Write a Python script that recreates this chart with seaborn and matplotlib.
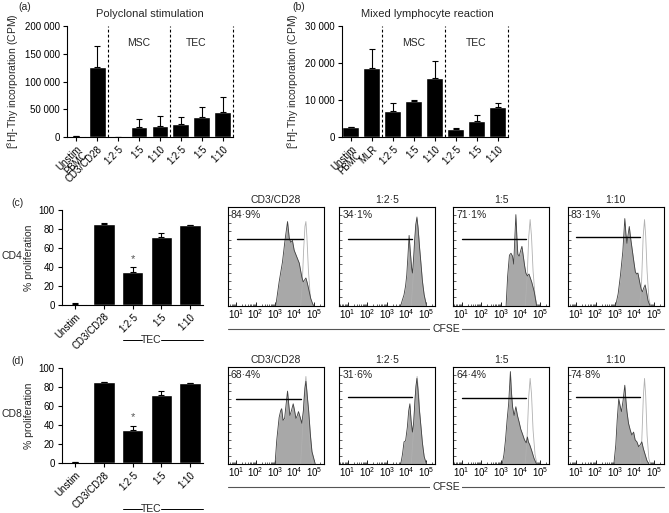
import numpy as np
import pandas as pd
import matplotlib.pyplot as plt
import seaborn as sns
from matplotlib.lines import Line2D
from matplotlib.ticker import LogLocator, NullFormatter

W, H = 669, 513

# (a) polyclonal stimulation, [3H]-Thy CPM
A_KEYS = ["PBMC", "CD3/CD28", "MSC 1:2.5", "MSC 1:5", "MSC 1:10", "TEC 1:2.5", "TEC 1:5", "TEC 1:10"]
A_LABELS = ["Unstim\nPBMC", "CD3/CD28", "1:2·5", "1:5", "1:10", "1:2·5", "1:5", "1:10"]
A_MEAN = [1800, 126000, 1200, 19100, 20900, 23900, 36400, 45400]
A_ERR = [0, 37600, 0, 14300, 17900, 11900, 17900, 27400]
A_YTICKS = [0, 50000, 100000, 150000, 200000]
A_YTICKLABELS = ["0", "50 000", "100 000", "150 000", "200 000"]

# (b) mixed lymphocyte reaction
B_KEYS = ["PBMC", "MLR", "MSC 1:2.5", "MSC 1:5", "MSC 1:10", "TEC 1:2.5", "TEC 1:5", "TEC 1:10"]
B_LABELS = ["Unstim\nPBMC", "MLR", "1:2·5", "1:5", "1:10", "1:2·5", "1:5", "1:10"]
B_MEAN = [2700, 18600, 7100, 9850, 16000, 2100, 4500, 8150]
B_ERR = [0, 5100, 2000, 100, 4400, 350, 1450, 1000]
B_YTICKS = [0, 10000, 20000, 30000]
B_YTICKLABELS = ["0", "10 000", "20 000", "30 000"]

# (c)/(d) % proliferation
P_KEYS = ["Unstim", "CD3/CD28", "TEC 1:2.5", "TEC 1:5", "TEC 1:10"]
P_LABELS = ["Unstim", "CD3/CD28", "1:2·5", "1:5", "1:10"]
CD4_MEAN = [1.0, 85.6, 34.7, 71.9, 84.2]
CD4_ERR = [0.3, 0.4, 4.6, 3.5, 0.3]
CD8_MEAN = [1.0, 85.3, 34.4, 71.6, 83.9]
CD8_ERR = [0.3, 0.4, 4.9, 3.8, 0.3]
P_YTICKS = [0, 20, 40, 60, 80, 100]

# CFSE histograms (x in log10 units, y as fraction of panel height)
HIST_TITLES = ["CD3/CD28", "1:2·5", "1:5", "1:10"]
CD4_PCT = ["84·9%", "34·1%", "71·1%", "83·1%"]
CD8_PCT = ["68·4%", "31·6%", "64·4%", "74·8%"]

CD4_FILL_X = [
    [3.03, 3.20, 3.37, 3.50, 3.63, 3.72, 3.80, 3.88, 3.97, 4.09, 4.23, 4.36, 4.43, 4.50, 4.57, 4.64, 4.71, 4.82, 4.95],
    [3.71, 3.80, 3.88, 3.96, 4.02, 4.08, 4.14, 4.20, 4.27, 4.31, 4.36, 4.42, 4.48, 4.54, 4.60, 4.67, 4.74, 4.82, 4.91, 5.03],
    [3.27, 3.35, 3.44, 3.52, 3.60, 3.66, 3.72, 3.77, 3.82, 3.87, 3.94, 4.02, 4.08, 4.15, 4.22, 4.28, 4.36, 4.44, 4.58, 4.71, 4.83],
    [3.02, 3.15, 3.27, 3.39, 3.49, 3.55, 3.60, 3.66, 3.72, 3.79, 3.86, 3.95, 4.03, 4.10, 4.16, 4.22, 4.28, 4.34, 4.39, 4.46, 4.53, 4.60, 4.68, 4.78],
]
CD4_FILL_Y = [
    [0, 0.24, 0.44, 0.66, 0.85, 0.68, 0.64, 0.66, 0.56, 0.50, 0.43, 0.29, 0.24, 0.26, 0.28, 0.23, 0.17, 0.07, 0],
    [0, 0.06, 0.11, 0.20, 0.31, 0.50, 0.71, 0.55, 0.38, 0.33, 0.45, 0.65, 0.82, 0.89, 0.78, 0.60, 0.44, 0.25, 0.11, 0],
    [0, 0.30, 0.51, 0.53, 0.50, 0.42, 0.70, 0.92, 0.70, 0.52, 0.50, 0.56, 0.60, 0.50, 0.40, 0.33, 0.30, 0.32, 0.24, 0.14, 0],
    [0, 0.12, 0.31, 0.55, 0.88, 0.72, 0.63, 0.72, 0.80, 0.68, 0.58, 0.45, 0.34, 0.32, 0.33, 0.27, 0.21, 0.16, 0.14, 0.18, 0.21, 0.14, 0.05, 0],
]
CD4_CTRL_X = [
    [4.30, 4.38, 4.45, 4.52, 4.57, 4.62, 4.70, 4.80, 4.92],
    [4.25, 4.35, 4.45, 4.54, 4.62, 4.72, 4.82, 4.95],
    [4.25, 4.35, 4.43, 4.50, 4.57, 4.65, 4.75, 4.85],
    [4.25, 4.35, 4.43, 4.50, 4.56, 4.63, 4.72, 4.80],
]
CD4_CTRL_Y = [
    [0, 0.20, 0.55, 0.80, 0.85, 0.70, 0.35, 0.08, 0],
    [0, 0.30, 0.70, 0.90, 0.75, 0.40, 0.15, 0],
    [0, 0.30, 0.70, 0.87, 0.70, 0.35, 0.10, 0],
    [0, 0.25, 0.70, 0.87, 0.70, 0.35, 0.08, 0],
]
CD4_GATE = [(1.05, 4.40, 0.67), (1.0, 4.31, 0.67), (1.0, 4.28, 0.67), (1.0, 4.28, 0.69)]

CD8_FILL_X = [
    [2.99, 3.08, 3.20, 3.28, 3.33, 3.40, 3.48, 3.56, 3.63, 3.69, 3.75, 3.83, 3.92, 3.99, 4.06, 4.13, 4.19, 4.28, 4.36, 4.44, 4.52, 4.57, 4.63, 4.71, 4.80, 4.88, 5.05],
    [3.71, 3.80, 3.88, 3.96, 4.05, 4.12, 4.18, 4.24, 4.31, 4.37, 4.43, 4.49, 4.54, 4.60, 4.67, 4.74, 4.82, 4.91, 5.03],
    [3.07, 3.16, 3.24, 3.32, 3.40, 3.45, 3.49, 3.54, 3.60, 3.68, 3.77, 3.85, 3.94, 4.02, 4.11, 4.21, 4.30, 4.36, 4.41, 4.48, 4.58, 4.70, 4.83],
    [2.93, 3.03, 3.10, 3.18, 3.25, 3.32, 3.40, 3.49, 3.55, 3.60, 3.68, 3.77, 3.85, 3.94, 4.02, 4.11, 4.20, 4.28, 4.36, 4.44, 4.53, 4.62, 4.73],
]
CD8_FILL_Y = [
    [0, 0.25, 0.48, 0.55, 0.57, 0.45, 0.47, 0.62, 0.75, 0.62, 0.50, 0.55, 0.62, 0.55, 0.47, 0.50, 0.54, 0.48, 0.42, 0.55, 0.78, 0.85, 0.72, 0.55, 0.30, 0.13, 0],
    [0, 0.10, 0.23, 0.24, 0.38, 0.55, 0.62, 0.45, 0.33, 0.42, 0.62, 0.80, 0.88, 0.75, 0.55, 0.40, 0.22, 0.08, 0],
    [0, 0.10, 0.25, 0.45, 0.62, 0.80, 0.95, 0.75, 0.59, 0.50, 0.59, 0.50, 0.43, 0.36, 0.31, 0.25, 0.22, 0.28, 0.23, 0.20, 0.14, 0.06, 0],
    [0, 0.20, 0.45, 0.67, 0.60, 0.54, 0.65, 0.81, 0.65, 0.54, 0.42, 0.35, 0.30, 0.33, 0.25, 0.23, 0.18, 0.20, 0.23, 0.16, 0.10, 0.04, 0],
]
CD8_CTRL_X = [
    [4.30, 4.40, 4.48, 4.57, 4.64, 4.72, 4.82, 4.92],
    [4.25, 4.35, 4.45, 4.55, 4.62, 4.72, 4.82, 4.95],
    [4.25, 4.35, 4.43, 4.50, 4.57, 4.65, 4.75, 4.85],
    [4.28, 4.36, 4.44, 4.50, 4.56, 4.63, 4.72, 4.80],
]
CD8_CTRL_Y = [
    [0, 0.35, 0.70, 0.90, 0.70, 0.35, 0.08, 0],
    [0, 0.30, 0.70, 0.90, 0.75, 0.40, 0.12, 0],
    [0, 0.30, 0.70, 0.88, 0.72, 0.35, 0.10, 0],
    [0, 0.25, 0.70, 0.88, 0.70, 0.30, 0.06, 0],
]
CD8_GATE = [(1.0, 4.31, 0.67), (1.0, 4.31, 0.69), (1.0, 4.28, 0.68), (1.0, 4.28, 0.69)]


sns.set_theme(style="ticks")
plt.rcParams["font.family"] = ["Liberation Sans", "DejaVu Sans"]
plt.rcParams["mathtext.fontset"] = "custom"
plt.rcParams["mathtext.rm"] = "Liberation Sans"
plt.rcParams["mathtext.it"] = "Liberation Sans:italic"
plt.rcParams["mathtext.bf"] = "Liberation Sans:bold"
plt.rcParams["axes.linewidth"] = 0.8
plt.rcParams["axes.edgecolor"] = "black"

fig = plt.figure(figsize=(W / 100, H / 100), dpi=100)
fig.patch.set_facecolor("white")


def rect(l, t, r, b):
    return [l / W, 1 - b / H, (r - l) / W, (b - t) / H]


def ftext(x, y, s, **kw):
    fig.text(x / W, 1 - y / H, s, **kw)


def fline(x0, x1, y, **kw):
    fig.add_artist(Line2D([x0 / W, x1 / W], [1 - y / H, 1 - y / H],
                          transform=fig.transFigure, **kw))


#bar panels (a)-(d)
def bar_panel(ax, keys, labels, means, errs, width, xlim, ylim, yticks, yticklabels):
    df = pd.DataFrame({"group": keys, "value": means})
    sns.barplot(data=df, x="group", y="value", order=keys, color="black",
                saturation=1, width=width, errorbar=None, ax=ax)
    ax.errorbar(np.arange(len(keys)), means, yerr=[np.zeros(len(errs)), errs],
                fmt="none", ecolor="black", elinewidth=0.8, capsize=2.5, capthick=0.8)
    ax.set_xlim(*xlim)
    ax.set_ylim(*ylim)
    ax.set_yticks(yticks)
    ax.set_yticklabels(yticklabels)
    ax.set_xticks(np.arange(len(keys)))
    ax.set_xticklabels(labels, rotation=45, ha="right", va="top", rotation_mode="anchor")
    for lbl in ax.get_xticklabels():
        lbl.set_linespacing(0.72)
        lbl.set_multialignment("right")
    ax.set_xlabel("")
    ax.set_ylabel("")
    ax.tick_params(labelsize=7, length=3, width=0.8, pad=2, colors="black")
    sns.despine(ax=ax)


ax_a = fig.add_axes(rect(67, 25.7, 233, 137.3))
bar_panel(ax_a, A_KEYS, A_LABELS, A_MEAN, A_ERR, 0.8, (-0.45, 7.5), (0, 200000),
          A_YTICKS, A_YTICKLABELS)
ax_a.set_ylabel("[$^3$H]-Thy incorporation (CPM)", fontsize=7.5, labelpad=3)
for xv in [1.5, 4.5, 7.5]:
    ax_a.axvline(xv, color="black", lw=0.8, ls=(0, (2.5, 2)), clip_on=False)
ax_a.text(3, 0.845, "MSC", transform=ax_a.get_xaxis_transform(), ha="center", va="center", fontsize=7.5)
ax_a.text(5.75, 0.845, "TEC", transform=ax_a.get_xaxis_transform(), ha="center", va="center", fontsize=7.5)
ftext(150, 14, "Polyclonal stimulation", ha="center", va="center", fontsize=8)
ftext(25, 6.5, "(a)", ha="center", va="center", fontsize=7.5)

ax_b = fig.add_axes(rect(341.7, 25.7, 507.7, 137.3))
bar_panel(ax_b, B_KEYS, B_LABELS, B_MEAN, B_ERR, 0.8, (-0.43, 7.48), (0, 30000),
          B_YTICKS, B_YTICKLABELS)
ax_b.set_ylabel("[$^3$H]-Thy incorporation (CPM)", fontsize=7.5, labelpad=3)
for xv in [1.5, 4.5, 7.48]:
    ax_b.axvline(xv, color="black", lw=0.8, ls=(0, (2.5, 2)), clip_on=False)
ax_b.text(3, 0.845, "MSC", transform=ax_b.get_xaxis_transform(), ha="center", va="center", fontsize=7.5)
ax_b.text(6, 0.845, "TEC", transform=ax_b.get_xaxis_transform(), ha="center", va="center", fontsize=7.5)
ftext(427, 14, "Mixed lymphocyte reaction", ha="center", va="center", fontsize=8)
ftext(299, 6.5, "(b)", ha="center", va="center", fontsize=7.5)

rows = [
    ("(c)", "CD4", 210, 304.7, 206.7, 305.7, 329, 340, CD4_MEAN, CD4_ERR, CD4_PCT,
     CD4_FILL_X, CD4_FILL_Y, CD4_CTRL_X, CD4_CTRL_Y, CD4_GATE),
    ("(d)", "CD8", 368, 463, 366.7, 464.3, 486.7, 509, CD8_MEAN, CD8_ERR, CD8_PCT,
     CD8_FILL_X, CD8_FILL_Y, CD8_CTRL_X, CD8_CTRL_Y, CD8_GATE),
]

HIST_LEFTS = [227.7, 339.3, 453.3, 567.7]

for (tag, cell, top, bot, htop, hbot, cfse_y, tec_y, means, errs, pcts,
     fxs, fys, cxs, cys, gates) in rows:
    ax = fig.add_axes(rect(61.7, top, 203, bot))
    bar_panel(ax, P_KEYS, P_LABELS, means, errs, 0.74, (-0.47, 4.45), (0, 100),
              P_YTICKS, [str(v) for v in P_YTICKS])
    ax.set_ylabel("% proliferation", fontsize=7.5, labelpad=3)
    ax.text(2, means[2] + errs[2] + 9, "*", ha="center", va="center", fontsize=8, color="#555555")
    ftext(18, top - 7, tag, ha="center", va="center", fontsize=7.5)
    ftext(2, bot - 49, cell, ha="left", va="center", fontsize=7.5)

    # TEC bracket under the bars
    fline(123, 142, tec_y, color="black", lw=0.7)
    fline(161, 203, tec_y, color="black", lw=0.7)
    ftext(151.5, tec_y, "TEC", ha="center", va="center", fontsize=7.5)

    # CFSE histograms
    for i, left in enumerate(HIST_LEFTS):
        hx = fig.add_axes(rect(left, htop, left + 96, hbot))
        fx = np.power(10.0, fxs[i])
        hx.fill_between(fx, fys[i], 0, color="#a8a8a8", lw=0, zorder=1)
        sns.lineplot(x=np.power(10.0, cxs[i]), y=cys[i], ax=hx, color="#b0b0b0",
                     lw=0.6, sort=False, estimator=None, zorder=2)
        sns.lineplot(x=fx, y=fys[i], ax=hx, color="#404040", lw=0.6,
                     sort=False, estimator=None, zorder=3)
        g0, g1, gh = gates[i]
        hx.plot([10 ** g0, 10 ** g1], [gh, gh], color="black", lw=1.0, zorder=4)
        hx.set_xscale("log")
        hx.set_xlim(10 ** 0.57, 10 ** 5.48)
        hx.set_ylim(0, 1)
        hx.xaxis.set_major_locator(LogLocator(base=10, numticks=10))
        hx.xaxis.set_minor_locator(LogLocator(base=10, subs=np.arange(2, 10), numticks=10))
        hx.xaxis.set_minor_formatter(NullFormatter())
        hx.set_yticks(np.linspace(0, 1, 13))
        hx.set_yticklabels([])
        hx.tick_params(axis="x", which="major", direction="in", length=3, width=0.6,
                       labelsize=7, pad=1, colors="black")
        hx.tick_params(axis="x", which="minor", direction="in", length=1.5, width=0.5)
        hx.tick_params(axis="y", direction="in", length=2, width=0.5)
        for sp in hx.spines.values():
            sp.set_linewidth(0.8)
            sp.set_color("black")
        hx.set_title(HIST_TITLES[i], fontsize=7.5, pad=3)
        hx.text(0.03, 0.965, pcts[i], transform=hx.transAxes, ha="left", va="top", fontsize=7.5)
        hx.set_xlabel("")
        hx.set_ylabel("")

    fline(227.7, 664, cfse_y, color="#555555", lw=0.8)
    ftext(446, cfse_y, "CFSE", ha="center", va="center", fontsize=7.5,
          bbox=dict(facecolor="white", edgecolor="none", pad=1.5))

fig.savefig("out.png", dpi=100, facecolor="white")
